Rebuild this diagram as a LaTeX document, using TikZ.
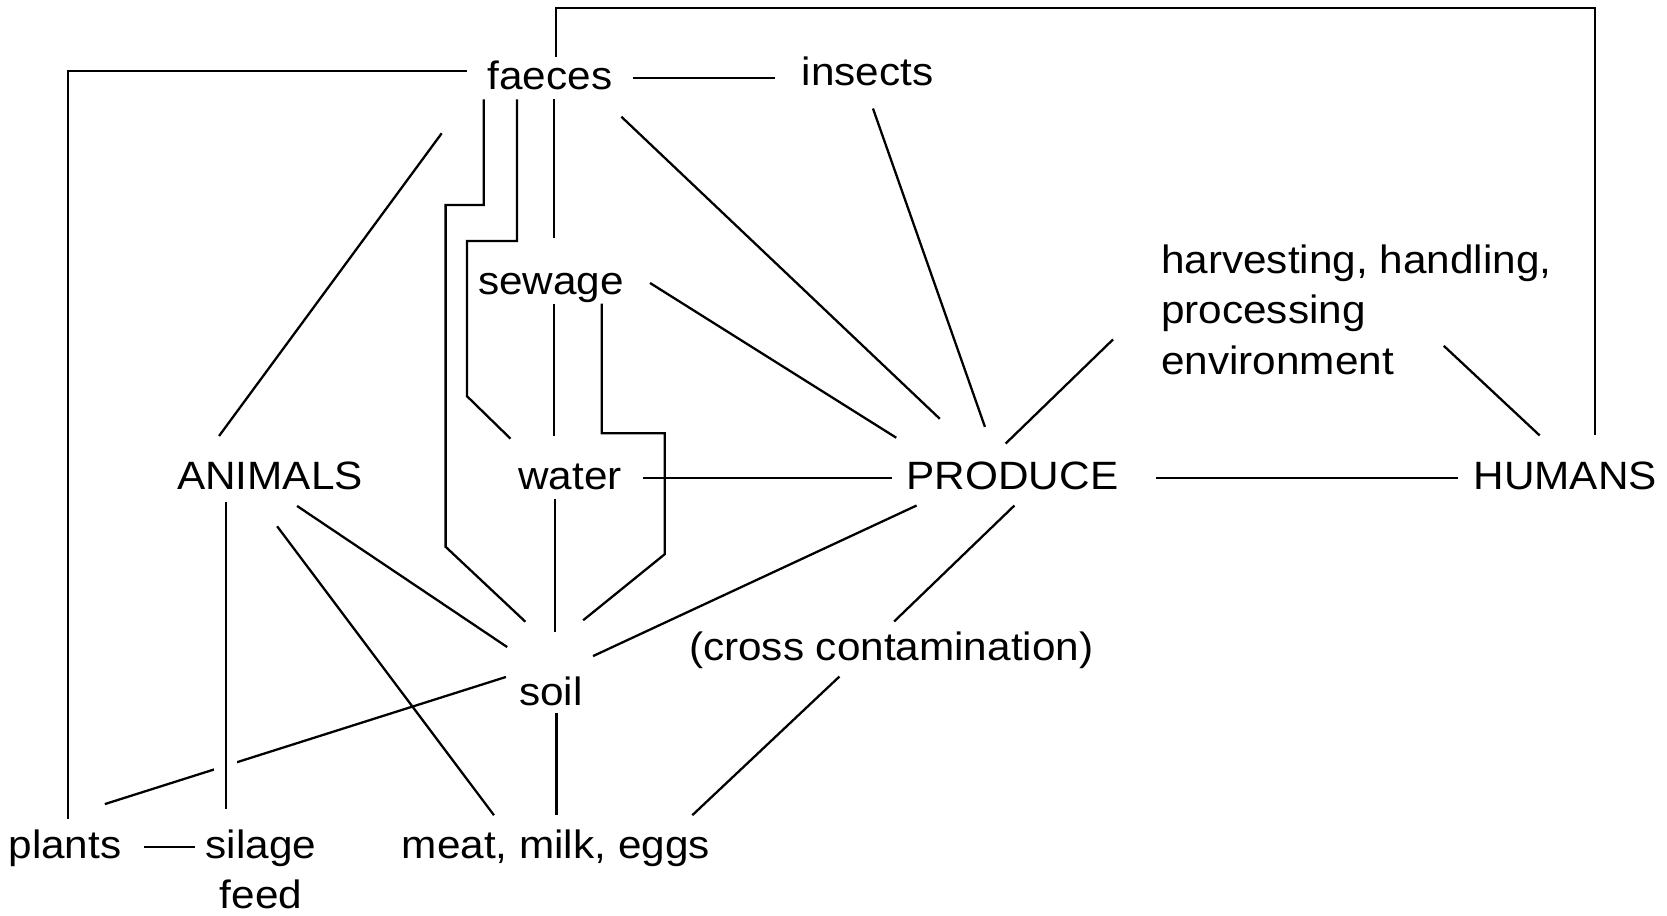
\documentclass[tikz,border=0pt]{standalone}
\usepackage{fontspec}
\setmainfont{Liberation Sans}[FakeStretch=1.07]
\usepackage{tikz}
\usetikzlibrary{calc}

\tikzset{
	lbl/.style={inner sep=0pt, text height=0.8em, text depth=0.13em},
}

\begin{document}
\begin{tikzpicture}[x=0.01cm, y=-0.01cm, line width=0.65pt, font=\fontsize{11.24pt}{14.4pt}\selectfont]
			\useasboundingbox (0,0) rectangle (1667,915);
			\node[lbl, inner xsep=0.2cm, inner ysep=0.04cm] (faeces) at (550,78) {faeces};
			\node[lbl, inner xsep=0.26cm, inner ysep=0.17cm] (insects) at (867.5,74) {insects};
			\node[lbl, inner xsep=0.25cm, inner ysep=0.03cm] (sewage) at (551,283) {sewage};
			\node[lbl, inner xsep=0.2cm, inner ysep=0.03cm] (water) at (570,478) {water};
			\node[lbl, inner xsep=0.1cm, inner ysep=0.06cm] (animals) at (270,478) {ANIMALS};
			\node[lbl, inner xsep=0.14cm, inner ysep=0.1cm] (produce) at (1012.5,478) {PRODUCE};
			\node[lbl, inner xsep=0.143cm, inner ysep=0.25cm] (humans) at (1565.25,478) {HUMANS};
			\node[lbl, align=left, text height=, text depth=, anchor=north west, inner xsep=0.47cm] (handling) at (1113,243.3) {harvesting, handling,\\processing\\environment};
			\node[lbl, inner xsep=0.12cm, inner ysep=0.02cm] (soil) at (550.8,693.3) {soil};
			\node[lbl, inner ysep=0.1cm] (cross) at (891.2,649) {(cross contamination)};
			\node[lbl, inner xsep=0.217cm, inner ysep=0.106cm] (plants) at (65,846.7) {plants};
			\node[lbl, align=center, text height=, text depth=, anchor=north, inner xsep=0.1cm, inner ysep=0.19cm] (silage) at (261,809.3) {silage\\feed};
			\node[lbl, inner ysep=0.14cm] (products) at (555.8,846.7) {meat, milk, eggs};

			\draw (faeces.75) -- ++(0,-48.3) -| (humans.55);
			\draw (faeces.175) -| (plants.84);
			\draw (faeces.east) -- (faeces.east -| insects.west);
			\draw[shorten <=0.42cm, shorten >=0.23cm] (faeces.south west) -- (animals.160);
			\draw[shorten >=0.76cm] (faeces.198) -- ++(0,105.6) -- ++(-38.2,0) -- ++(0,341.7) -- (soil.33);
			\draw[shorten >=0.27cm] (faeces.213) -- ++(0,141.6) -- ++(-50,0) -- ++(0,155) -- (water.153);
			\draw[shorten >=0.24cm] (faeces.280) -- (faeces.280 |- sewage.north);
			\draw[shorten <=0.25cm, shorten >=0.46cm] (faeces.338) -- (produce.145);
			\draw[shorten >=0.25cm] (insects.279) -- (produce.125);
			\draw[shorten >=0.24cm] (sewage.east) -- (produce.164);
			\draw[shorten >=0.21cm] (sewage.278) -- (sewage.278 |- water.north);
			\draw[shorten >=0.85cm] (sewage.338) -- ++(0,129.7) -| ++(63,121) -- (soil.150);
			\draw (water.east) -- (produce.west);
			\draw[shorten >=0.42cm] (water.234) -- (water.234 |- soil.north);
			\draw[shorten <=0.08cm, shorten >=0.48cm] (animals.311) -- (soil.101);
			\draw[shorten <=0.31cm] (animals.244) -- (products.153);
			\draw[shorten >=0.48cm] (soil.160) -- (plants.102);
			\draw[preaction={draw=white, line width=0.23cm}] (animals.208) -- (animals.208 |- silage.north);
			\draw (plants.east) -- (plants.east -| silage.west);
			\draw (soil.286) -- (soil.286 |- products.north);
			\draw[shorten <=0.42cm] (soil.78) -- (produce.196);
			\draw (produce.274) -- (cross.84);
			\draw (cross.208) -- (products.13);
			\draw[shorten <=0.1cm] (produce.117) -- (handling.187);
			\draw[shorten <=-0.44cm] (handling.331) -- (humans.121);
			\draw[shorten <=0.23cm] (produce.east) -- (humans.west);
		\end{tikzpicture}
\end{document}
